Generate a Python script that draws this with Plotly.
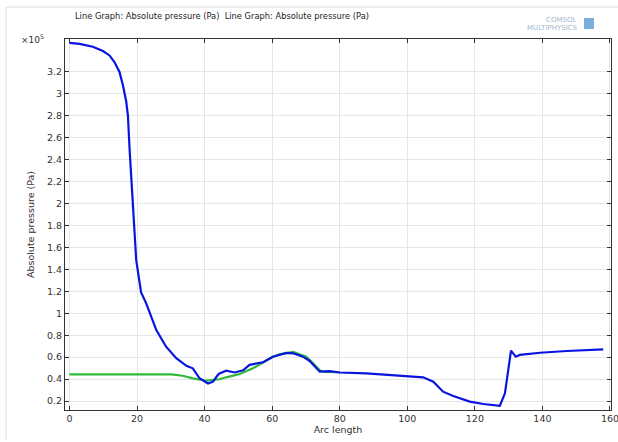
import plotly.graph_objects as go

# Blue curve: arc length vs absolute pressure (x1e5 Pa)
blue_x = [0, 3.0, 6.9, 9.9, 11.85, 13.3, 14.8, 15.8, 16.8, 17.3, 17.8, 19.3, 19.75,
          21.2, 22.7, 25.7, 28.6, 31.6, 34.6, 36.5, 38.5, 41.0, 42.5, 43.9, 44.4,
          46.4, 48.9, 51.4, 53.3, 57.3, 60.2, 64.2, 66.2, 67.2, 69.1, 71.1, 74.1,
          77.0, 80.0, 87.9, 97.8, 104.7, 107.7, 110.6, 113.6, 118.5, 122.5, 127.4,
          128.9, 130.7, 132.1, 133.3, 139.3, 147.2, 158.0]
blue_y = [3.464, 3.455, 3.43, 3.39, 3.35, 3.29, 3.20, 3.08, 2.93, 2.80, 2.49, 1.73, 1.485,
          1.19, 1.09, 0.847, 0.695, 0.59, 0.52, 0.498, 0.407, 0.36, 0.376, 0.437, 0.452,
          0.476, 0.46, 0.48, 0.53, 0.553, 0.604, 0.638, 0.635, 0.625, 0.604, 0.565, 0.467,
          0.473, 0.46, 0.452, 0.43, 0.416, 0.376, 0.285, 0.245, 0.194, 0.173, 0.157,
          0.27, 0.659, 0.604, 0.62, 0.64, 0.656, 0.671]

# Green curve
green_x = [0, 10, 20, 30.1, 33.5, 36.5, 40.5, 42.5, 44.4, 46.4, 50.4, 54.3, 58.3,
           60.2, 62.2, 65.2, 66.2, 68.1, 70.1, 72.1, 74.1, 75.5, 78.0, 80.0]
green_y = [0.443, 0.443, 0.443, 0.443, 0.43, 0.407, 0.385, 0.39, 0.398, 0.416, 0.446,
           0.498, 0.565, 0.604, 0.625, 0.645, 0.648, 0.625, 0.604, 0.543, 0.48, 0.465,
           0.467, 0.462]

y_ticks = [0.2, 0.4, 0.6, 0.8, 1, 1.2, 1.4, 1.6, 1.8, 2, 2.2, 2.4, 2.6, 2.8, 3, 3.2]
x_ticks = [0, 20, 40, 60, 80, 100, 120, 140, 160]

title_text = "Line Graph: Absolute pressure (Pa)  Line Graph: Absolute pressure (Pa)"

fig = go.Figure()
fig.add_trace(go.Scatter(x=green_x, y=green_y, mode="lines",
                         line=dict(color="#2db83a", width=2.2), showlegend=False))
fig.add_trace(go.Scatter(x=blue_x, y=blue_y, mode="lines",
                         line=dict(color="#0a14e0", width=2.2), showlegend=False))

axis_common = dict(showline=True, linecolor="#333333", linewidth=1, mirror="ticks",
                   ticks="inside", ticklen=4, tickcolor="#333333",
                   showgrid=True, gridcolor="#e6e6e6", gridwidth=1, zeroline=False,
                   ticklabeloverflow="allow", automargin=False,
                   tickfont=dict(family="DejaVu Sans", size=9.5, color="#333333"))

fig.update_xaxes(range=[-1.33, 160.3], tickvals=x_ticks,
                 title=dict(text="Arc length", font=dict(family="DejaVu Sans", size=9.5, color="#333333"),
                            standoff=2),
                 **axis_common)
fig.update_yaxes(range=[0.118, 3.5], tickvals=y_ticks,
                 title=dict(text="Absolute pressure (Pa)", font=dict(family="DejaVu Sans", size=9.5, color="#333333"),
                            standoff=10),
                 **axis_common)

PW = 546
PH = 371

fig.update_layout(
    width=618, height=442,
    margin=dict(l=65, r=7, t=39, b=32),
    paper_bgcolor="white", plot_bgcolor="white",
    font=dict(family="DejaVu Sans", size=10, color="#333333"),
    annotations=[
        dict(text=title_text, xref="paper", yref="paper", x=(222 - 65) / PW, y=1 + (39 - 16) / PH,
             xanchor="center", yanchor="middle", showarrow=False,
             font=dict(family="DejaVu Sans", size=8.3, color="#222222")),
        dict(text="×10<sup>5</sup>", xref="paper", yref="paper", x=-0.035, y=1.0,
             xanchor="right", yanchor="middle", showarrow=False,
             font=dict(family="DejaVu Sans", size=9, color="#333333")),
        dict(text="COMSOL", xref="paper", yref="paper", x=(578 - 65) / PW, y=1 + (39 - 20) / PH,
             xanchor="right", yanchor="middle", showarrow=False,
             font=dict(family="DejaVu Sans", size=7, color="#9fb6cc")),
        dict(text="MULTIPHYSICS", xref="paper", yref="paper", x=(580 - 65) / PW, y=1 + (39 - 28) / PH,
             xanchor="right", yanchor="middle", showarrow=False,
             font=dict(family="DejaVu Sans", size=7, color="#9fb6cc")),
    ],
    shapes=[
        dict(type="rect", xref="paper", yref="paper",
             x0=(584 - 65) / PW, x1=(594 - 65) / PW,
             y0=1 + (39 - 29) / PH, y1=1 + (39 - 18) / PH,
             fillcolor="#5a9ad0", line=dict(width=0), opacity=0.8),
        dict(type="line", xref="paper", yref="paper",
             x0=(6 - 65) / PW, x1=(618 - 65) / PW, y0=1 + (39 - 7) / PH, y1=1 + (39 - 7) / PH,
             line=dict(color="#dddddd", width=1)),
        dict(type="line", xref="paper", yref="paper",
             x0=(6 - 65) / PW, x1=(6 - 65) / PW, y0=1 + (39 - 7) / PH, y1=-(440 - 410) / PH,
             line=dict(color="#dddddd", width=1)),
    ],
)

fig.write_html("out.html", config={"displayModeBar": False},
               post_script="document.body.style.margin='0';document.body.style.overflow='hidden';")
